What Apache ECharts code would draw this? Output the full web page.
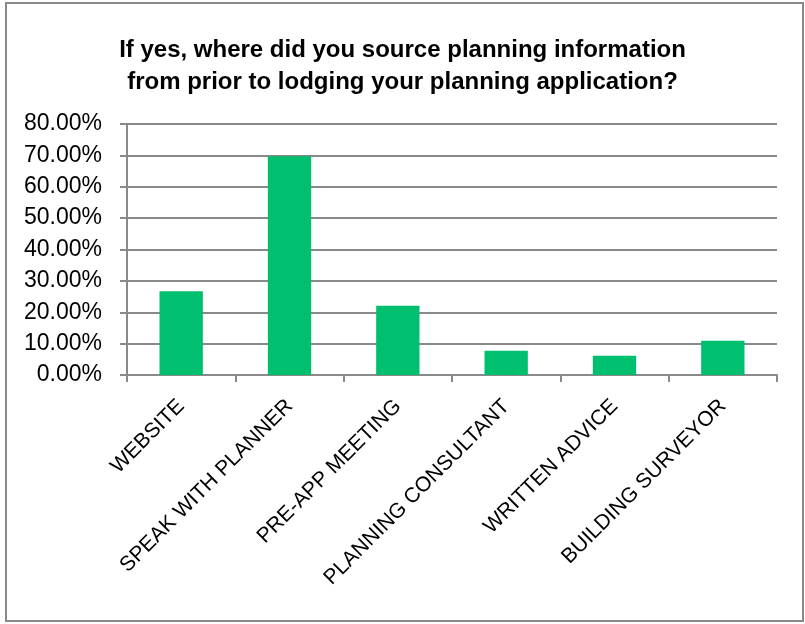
<!DOCTYPE html>
<html>
<head>
<meta charset="utf-8">
<script src="https://cdn.jsdelivr.net/npm/echarts@6/dist/echarts.min.js"></script>
<style>
  html, body { margin: 0; padding: 0; background: #ffffff; }
  #chart { width: 805px; height: 624px; }
</style>
</head>
<body>
<div id="chart"></div>
<script>
// Survey responses: where applicants sourced planning information
const titleLines = [
  'If yes, where did you source planning information',
  'from prior to lodging your planning application?'
];
const categories = [
  'WEBSITE',
  'SPEAK WITH PLANNER',
  'PRE-APP MEETING',
  'PLANNING CONSULTANT',
  'WRITTEN ADVICE',
  'BUILDING SURVEYOR'
];
const shares = [26.7, 69.7, 22.1, 7.7, 6.1, 10.9]; // percent of respondents
const yTicks = { min: 0, max: 80, step: 10 };

const fontFamily = '"Liberation Sans", Arial, sans-serif';
const gray = '#898989';

const chart = echarts.init(document.getElementById('chart'), null, { renderer: 'canvas' });
chart.setOption({
  backgroundColor: '#ffffff',
  animation: false,
  title: {
    text: titleLines.join('\n'),
    left: 'center',
    top: 29,
    textStyle: {
      fontFamily: fontFamily,
      fontWeight: 'bold',
      fontSize: 24,
      lineHeight: 32,
      color: '#000000'
    }
  },
  graphic: [{
    type: 'rect',
    shape: { x: 6, y: 3, width: 797, height: 618 },
    style: { fill: 'none', stroke: gray, lineWidth: 2 },
    silent: true
  }],
  grid: { left: 127, right: 28, top: 124, bottom: 249, containLabel: false },
  xAxis: {
    type: 'category',
    data: categories,
    axisLine: { lineStyle: { color: gray, width: 2 } },
    axisTick: { show: true, length: 7, lineStyle: { color: gray, width: 2 } },
    axisLabel: {
      rotate: 45,
      interval: 0,
      margin: 28,
      fontFamily: fontFamily,
      fontSize: 21,
      color: '#000000'
    }
  },
  yAxis: {
    type: 'value',
    min: yTicks.min,
    max: yTicks.max,
    interval: yTicks.step,
    axisLine: { show: true, lineStyle: { color: gray, width: 2 } },
    axisTick: { show: true, length: 7, lineStyle: { color: gray, width: 2 } },
    splitLine: { show: true, lineStyle: { color: gray, width: 2 } },
    axisLabel: {
      margin: 25,
      fontFamily: fontFamily,
      fontSize: 23,
      color: '#000000',
      formatter: v => v.toFixed(2) + '%'
    }
  },
  series: [{
    type: 'bar',
    data: shares,
    barCategoryGap: '60%',
    itemStyle: { color: '#00BF6F' }
  }]
});
</script>
</body>
</html>
